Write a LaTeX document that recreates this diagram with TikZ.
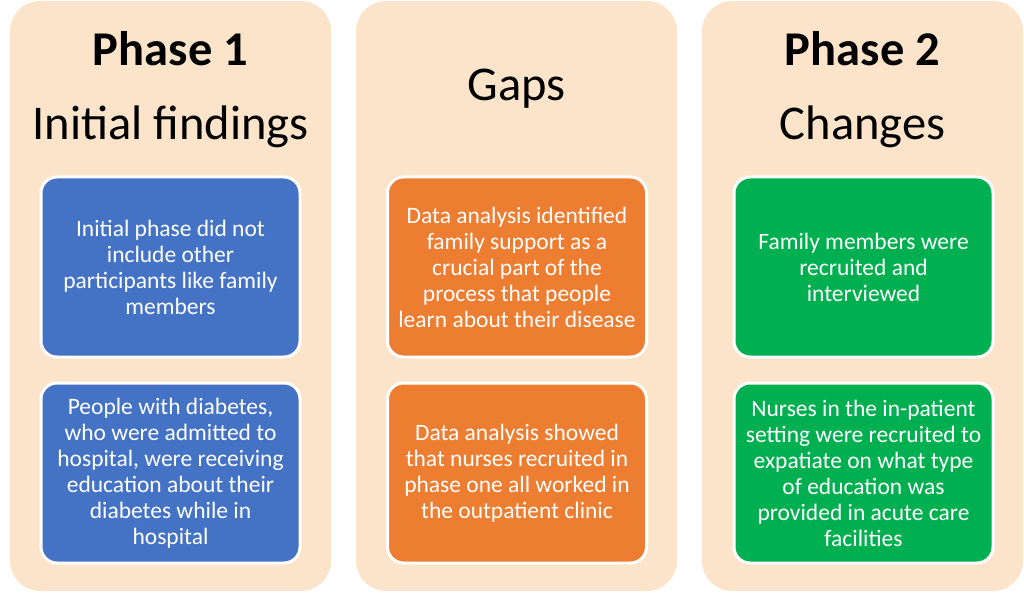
\documentclass[tikz,border=0pt]{standalone}
\usepackage{fontspec}
\setmainfont{Carlito}
\usepackage{tikz}
\usetikzlibrary{positioning}

\definecolor{peach}{HTML}{FCE4CA}
\definecolor{boxblue}{HTML}{4472C4}
\definecolor{boxorange}{HTML}{ED7D31}
\definecolor{boxgreen}{HTML}{00B050}

\begin{document}
\begin{tikzpicture}[x=1pt, y=1pt,
    panel/.style={fill=peach, draw=none, rounded corners=30pt,
        minimum width=321pt, minimum height=590pt, inner sep=0pt},
    card/.style={draw=white, line width=3pt, rounded corners=16pt,
        minimum width=259pt, minimum height=180pt, inner sep=0pt,
        align=center, text=white, font=\fontsize{23.5}{26}\selectfont},
    title/.style={font=\fontsize{48.5}{54}\selectfont\bfseries},
    subtitle/.style={font=\fontsize{48.5}{54}\selectfont}]

    % === Page ===
    \useasboundingbox (0,0) rectangle (1024,592);

    % === Column panels ===
    \node[panel] (p1) at (170.5,296) {};
    \node[panel] (p2) at (516.5,296) {};
    \node[panel] (p3) at (862.5,296) {};

    % === Headings ===
    \node[title] (h1) at (170.5,543) {Phase 1};
    \node[subtitle] (s1) at (170.5,465) {Initial findings};
    \node[subtitle] (s2) at (516.5,503) {Gaps};
    \node[title] (h3) at (862.5,543) {Phase 2};
    \node[subtitle] (s3) at (862.5,465) {Changes};

    % === Phase 1 cards ===
    \node[card, fill=boxblue] (b1) at (170.5,325)
    {Initial phase did not\\include other\\participants like family\\members};
    \node[card, fill=boxblue] (b2) at (170.5,119)
    {People with diabetes,\\who were admitted to\\hospital, were receiving\\education about their\\diabetes while in\\hospital};

    % === Gaps cards ===
    \node[card, fill=boxorange] (g1) at (517,325)
    {Data analysis identified\\family support as a\\crucial part of the\\process that people\\learn about their disease};
    \node[card, fill=boxorange] (g2) at (517,119)
    {Data analysis showed\\that nurses recruited in\\phase one all worked in\\the outpatient clinic};

    % === Phase 2 cards ===
    \node[card, fill=boxgreen] (c1) at (863.5,325)
    {Family members were\\recruited and\\interviewed};
    \node[card, fill=boxgreen] (c2) at (863.5,119)
    {Nurses in the in-patient\\setting were recruited to\\expatiate on what type\\of education was\\provided in acute care\\facilities};

\end{tikzpicture}
\end{document}
